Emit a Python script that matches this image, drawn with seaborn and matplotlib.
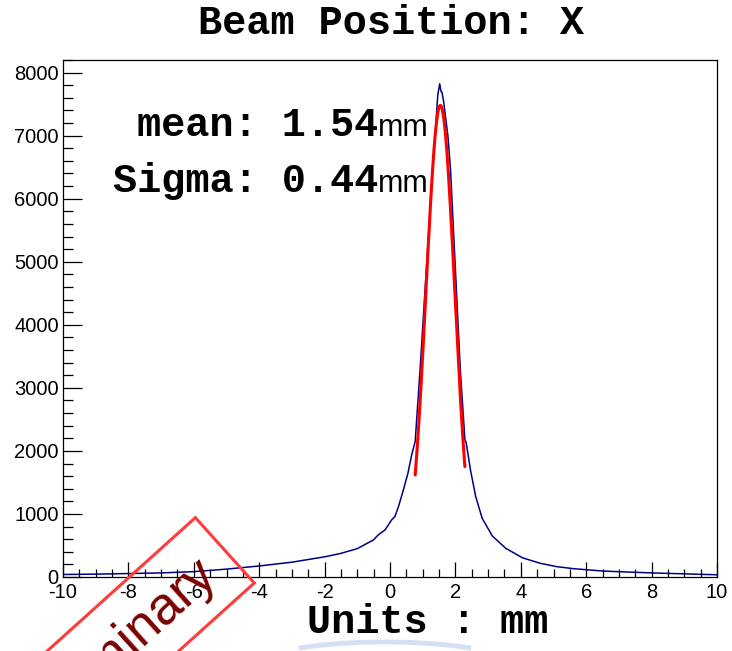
import numpy as np
import matplotlib
matplotlib.use("Agg")
import matplotlib.pyplot as plt
import matplotlib.transforms as mtransforms
from matplotlib.patches import Rectangle
from matplotlib.lines import Line2D
from matplotlib.ticker import MultipleLocator
import seaborn as sns

# Beam profile along X (bin position in mm, entries per bin)
position_mm = [-10.0, -9.0, -8.0, -7.0, -6.0, -5.0, -4.0, -3.0, -2.0, -1.5,
               -1.0, -0.5, -0.36, -0.15, 0.05, 0.15, 0.26, 0.41, 0.55, 0.66,
               0.77, 0.92, 1.11, 1.31, 1.38, 1.46, 1.52, 1.56, 1.59, 1.64,
               1.77, 1.85, 2.00, 2.15, 2.29, 2.33, 2.46, 2.62, 2.82, 3.13,
               3.54, 4.05, 4.59, 5.1, 5.61, 6.12, 6.5, 7.0, 8.0, 9.0, 10.0]
counts = [40, 45, 55, 65, 85, 125, 175, 235, 320, 375,
          450, 590, 668, 747, 906, 959, 1118, 1383, 1650, 1930,
          2150, 3290, 4880, 6470, 7000, 7640, 7823, 7700, 7690, 7540,
          7000, 6470, 4880, 3290, 2180, 2130, 1700, 1277, 930, 650,
          455, 305, 218, 164, 132, 111, 95, 84, 65, 50, 35]

# Gaussian fit of the core
fit_mean = 1.54
fit_sigma = 0.44
fit_amplitude = 7480
fit_range = (0.77, 2.29)

title = "Beam Position: X"
x_title = "Units : mm"
x_ticks = [-10, -8, -6, -4, -2, 0, 2, 4, 6, 8, 10]
y_ticks = [0, 1000, 2000, 3000, 4000, 5000, 6000, 7000, 8000]
stamp_text = "Preliminary"

sns.set_theme(style="white")
plt.rcParams["font.family"] = ["Liberation Sans", "DejaVu Sans"]

W, H = 732, 651
fig = plt.figure(figsize=(W / 100, H / 100), dpi=100)
fig.patch.set_facecolor("white")
ax = fig.add_axes([63 / W, 74 / H, 654 / W, 517 / H])
ax.set_facecolor("white")

sns.lineplot(x=position_mm, y=counts, ax=ax, color="#000080", linewidth=1.1,
             estimator=None, sort=False)

fit_x = np.linspace(fit_range[0], fit_range[1], 200)
fit_y = fit_amplitude * np.exp(-0.5 * ((fit_x - fit_mean) / fit_sigma) ** 2)
sns.lineplot(x=fit_x, y=fit_y, ax=ax, color="#ff0000", linewidth=2.2,
             estimator=None, sort=False)

ax.set_xlim(-10, 10)
ax.set_ylim(0, 8200)
ax.set_xlabel("")
ax.set_ylabel("")

ax.set_xticks(x_ticks, [str(t) for t in x_ticks])
ax.set_yticks(y_ticks, [str(t) for t in y_ticks])
ax.xaxis.set_minor_locator(MultipleLocator(0.5))
ax.yaxis.set_minor_locator(MultipleLocator(200))

for s in ax.spines.values():
    s.set_visible(True)
    s.set_color("black")
    s.set_linewidth(0.9)

ax.tick_params(axis="x", which="both", direction="in", bottom=True, top=False,
               color="black", width=0.9)
ax.tick_params(axis="x", which="major", length=11, pad=4, labelsize=14.5,
               labelcolor="black")
ax.tick_params(axis="x", which="minor", length=5.5)
ax.tick_params(axis="y", which="both", direction="in", left=True, right=False,
               color="black", width=0.9)
ax.tick_params(axis="y", which="major", length=13.5, pad=3, labelsize=14.5,
               labelcolor="black")
ax.tick_params(axis="y", which="minor", length=7)

mono = dict(family="Liberation Mono", weight="bold", size=29, color="black")
sans = dict(family="Liberation Sans", size=22, color="black")

# Fit results
split_x = 0.4817
ax.text(split_x, 0.853, f"mean: {fit_mean:.2f}", transform=ax.transAxes,
        ha="right", va="baseline", **mono)
ax.text(split_x, 0.853, "mm", transform=ax.transAxes, ha="left",
        va="baseline", **sans)
ax.text(split_x, 0.745, f"Sigma: {fit_sigma:.2f}", transform=ax.transAxes,
        ha="right", va="baseline", **mono)
ax.text(split_x, 0.745, "mm", transform=ax.transAxes, ha="left",
        va="baseline", **sans)

# Title and axis title
fig.text(391 / W, 617 / H, title, ha="center", va="baseline", **mono)
fig.text(428 / W, 18 / H, x_title, ha="center", va="baseline", **mono)

# Pixel-based transform for the decorations
px = mtransforms.Affine2D().scale(1 / W, 1 / H) + fig.transFigure

# faint swoosh under the axis title
theta = np.radians(np.linspace(52, 128, 60))
swoosh = Line2D(385 + 140 * np.cos(theta), -20 + 29 * np.sin(theta),
                color="#d6e0f4", linewidth=3.5, solid_capstyle="butt",
                transform=px)
fig.add_artist(swoosh)

# "Preliminary" stamp
cx, cy = 123, 9
box_w, box_h = 274, 88
stamp = Rectangle((cx - box_w / 2, cy - box_h / 2), box_w, box_h, angle=42,
                  rotation_point="center", fill=False, edgecolor="#ff3b3b",
                  linewidth=2.2, transform=px, clip_on=False, zorder=5)
fig.add_artist(stamp)
fig.text(111, -3, stamp_text, transform=px, rotation=42, rotation_mode="anchor",
         ha="center", va="center", color="#7a0000", fontsize=38,
         family="Liberation Sans", zorder=6)

fig.savefig("out.png", dpi=100)
